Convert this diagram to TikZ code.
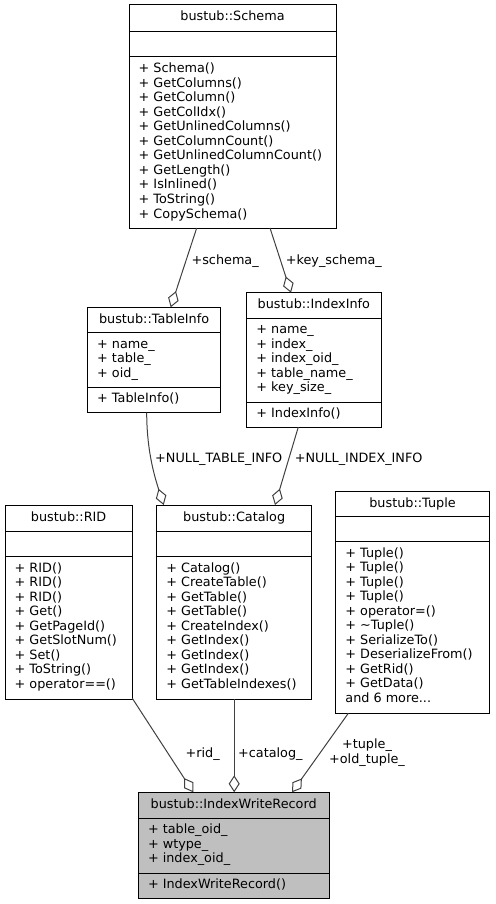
\documentclass[tikz,border=0pt]{standalone}
\usepackage{fontspec}
\setmainfont{DejaVu Sans}
\usetikzlibrary{arrows.meta}

\definecolor{edgegray}{HTML}{404040}
\definecolor{focusfill}{HTML}{BFBFBF}

\tikzset{
  classbox/.style={draw=black, line width=1pt, anchor=north west, inner sep=0pt, outer sep=0pt},
  sepline/.style={draw=black, line width=1pt},
  member/.style={font=\fontsize{12.8}{14.5}\selectfont, inner sep=0pt, anchor=base west},
  classtitle/.style={font=\fontsize{12.8}{14.5}\selectfont, inner sep=0pt, anchor=base},
  rolelabel/.style={font=\fontsize{12.8}{14.5}\selectfont, inner sep=0pt, anchor=base west},
  assoc/.style={draw=edgegray, line width=1pt, -{Diamond[open, length=17pt, width=11pt]}}
}

% one member line per node, 14.5pt apart: prefix, x, first baseline, lines
\newcommand\classlines[4]{%
  \foreach \memb [count=\i] in {#4} {\node[member] (#1\i) at ({#2},{#3+14.5*(\i-1)}) {\memb};}}

\begin{document}
\begin{tikzpicture}[x=1pt, y=-1pt]
\useasboundingbox (0,0) rectangle (495,904);

% ---------- bustub::Schema ----------
\node[classbox, minimum width=207pt, minimum height=223pt] (schema) at (129,5) {};
\draw[sepline] (129,31.7) -- (336,31.7);
\draw[sepline] (129,56.7) -- (336,56.7);
\node[classtitle] (schemat) at (232.5,21) {bustub::Schema};
\classlines{schemam}{138.5}{73}{+ Schema(), + GetColumns(), + GetColumn(), + GetColIdx(),
  + GetUnlinedColumns(), + GetColumnCount(), + GetUnlinedColumnCount(), + GetLength(),
  + IsInlined(), + ToString(), + CopySchema()}

% ---------- bustub::TableInfo ----------
\node[classbox, minimum width=133.2pt, minimum height=105.4pt] (tableinfo) at (87.5,307.3) {};
\draw[sepline] (87.5,332.7) -- (220.7,332.7);
\draw[sepline] (87.5,387) -- (220.7,387);
\node[classtitle] (tableinfot) at (154.1,323.3) {bustub::TableInfo};
\classlines{tableinfoa}{97}{348}{+ name\_, + table\_, + oid\_}
\classlines{tableinfom}{97}{402.3}{+ TableInfo()}

% ---------- bustub::IndexInfo ----------
\node[classbox, minimum width=134.3pt, minimum height=134.3pt] (indexinfo) at (246.7,292.7) {};
\draw[sepline] (246.7,318) -- (381,318);
\draw[sepline] (246.7,402) -- (381,402);
\node[classtitle] (indexinfot) at (313.85,308.7) {bustub::IndexInfo};
\classlines{indexinfoa}{256.2}{333.5}{+ name\_, + index\_, + index\_oid\_, + table\_name\_, + key\_size\_}
\classlines{indexinfom}{256.2}{417.4}{+ IndexInfo()}

% ---------- bustub::RID ----------
\node[classbox, minimum width=127.3pt, minimum height=194.3pt] (rid) at (5,505) {};
\draw[sepline] (5,531.7) -- (132.3,531.7);
\draw[sepline] (5,556.7) -- (132.3,556.7);
\node[classtitle] (ridt) at (68.65,521) {bustub::RID};
\classlines{ridm}{14.5}{572.4}{+ RID(), + RID(), + RID(), + Get(), + GetPageId(), + GetSlotNum(),
  + Set(), + ToString(), + operator==()}

% ---------- bustub::Catalog ----------
\node[classbox, minimum width=155pt, minimum height=194.3pt] (catalog) at (156.7,505) {};
\draw[sepline] (156.7,531.7) -- (311.7,531.7);
\draw[sepline] (156.7,556.7) -- (311.7,556.7);
\node[classtitle] (catalogt) at (234.2,521) {bustub::Catalog};
\classlines{catalogm}{166.2}{572.4}{+ Catalog(), + CreateTable(), + GetTable(), + GetTable(),
  + CreateIndex(), + GetIndex(), + GetIndex(), + GetIndex(), + GetTableIndexes()}

% ---------- bustub::Tuple ----------
\node[classbox, minimum width=153.6pt, minimum height=221.6pt] (tuple) at (335.7,491.7) {};
\draw[sepline] (335.7,516.7) -- (489.3,516.7);
\draw[sepline] (335.7,541.7) -- (489.3,541.7);
\node[classtitle] (tuplet) at (412.5,507.7) {bustub::Tuple};
\classlines{tuplem}{345.2}{557.4}{+ Tuple(), + Tuple(), + Tuple(), + Tuple(), + operator=(),
  + \textasciitilde Tuple(), + SerializeTo(), + DeserializeFrom(), + GetRid(), + GetData()}
\node[member] (tuplemore) at (345.2,702.4) {and 6 more...};

% ---------- bustub::IndexWriteRecord ----------
\node[classbox, fill=focusfill, minimum width=190.7pt, minimum height=105.7pt] (iwr) at (138.3,792.3) {};
\draw[sepline] (138.3,818) -- (329,818);
\draw[sepline] (138.3,873) -- (329,873);
\node[classtitle] (iwrt) at (233.65,808.3) {bustub::IndexWriteRecord};
\classlines{iwra}{147.8}{833.5}{+ table\_oid\_, + wtype\_, + index\_oid\_}
\classlines{iwrm}{147.8}{888.4}{+ IndexWriteRecord()}

% ---------- aggregation connectors ----------
\draw[assoc] ([xshift=67.7pt]schema.south west) -- ([xshift=83.2pt]tableinfo.north west);
\draw[assoc] ([xshift=141pt]schema.south west) -- ([xshift=44.3pt]indexinfo.north west);
\draw[assoc] ([xshift=59.2pt]tableinfo.south west) .. controls +(0,40) and +(-8,-25) .. ([xshift=7pt]catalog.north west);
\draw[assoc] ([xshift=51.6pt]indexinfo.south west) -- ([xshift=118.3pt]catalog.north west);
\draw[assoc] ([yshift=1pt]rid.south east) -- ([xshift=55pt]iwr.north west);
\draw[assoc] (catalog.south) -- (catalog.south |- iwr.north);
\draw[assoc] ([xshift=12.6pt]tuple.south west) -- ([xshift=153.7pt]iwr.north west);

% ---------- role labels ----------
\node[rolelabel] (lblschema) at (191.4,264) {+schema\_};
\node[rolelabel] (lblkeyschema) at (285.7,264) {+key\_schema\_};
\node[rolelabel] (lblnulltable) at (155,462) {+NULL\_TABLE\_INFO};
\node[rolelabel] (lblnullindex) at (294.7,462) {+NULL\_INDEX\_INFO};
\node[rolelabel] (lblrid) at (185.4,757.5) {+rid\_};
\node[rolelabel] (lblcatalog) at (238,757.5) {+catalog\_};
\node[classtitle] (lbltuple) at (367,748.5) {+tuple\_};
\node[classtitle] (lbloldtuple) at (367,763.5) {+old\_tuple\_};
\end{tikzpicture}
\end{document}
